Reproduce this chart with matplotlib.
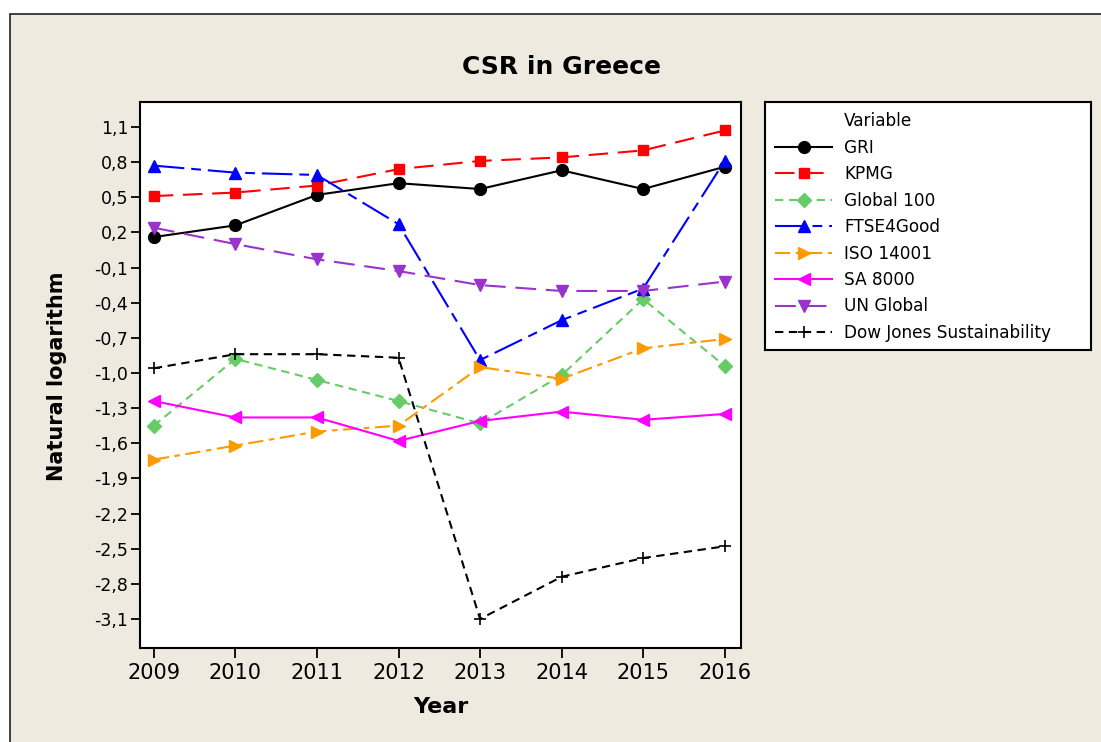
import matplotlib
matplotlib.use("Agg")
import matplotlib.pyplot as plt
from matplotlib.patches import Rectangle
from matplotlib.lines import Line2D
from matplotlib.ticker import FuncFormatter

plt.rcParams['font.family'] = ['DejaVu Sans']
plt.rcParams['lines.scale_dashes'] = False

# data
years = [2009, 2010, 2011, 2012, 2013, 2014, 2015, 2016]
gri = [0.16, 0.26, 0.52, 0.62, 0.57, 0.73, 0.57, 0.76]
kpmg = [0.51, 0.54, 0.60, 0.74, 0.81, 0.84, 0.90, 1.07]
global100 = [-1.45, -0.88, -1.06, -1.24, -1.43, -1.02, -0.37, -0.94]
ftse4good = [0.77, 0.71, 0.69, 0.27, -0.89, -0.55, -0.28, 0.81]
iso14001 = [-1.74, -1.62, -1.50, -1.45, -0.95, -1.05, -0.79, -0.71]
sa8000 = [-1.24, -1.38, -1.38, -1.58, -1.41, -1.33, -1.40, -1.35]
un_global = [0.24, 0.10, -0.03, -0.13, -0.25, -0.30, -0.30, -0.22]
dow_jones = [-0.96, -0.84, -0.84, -0.87, -3.10, -2.74, -2.58, -2.48]
yticks = [1.1, 0.8, 0.5, 0.2, -0.1, -0.4, -0.7, -1.0, -1.3, -1.6, -1.9,
          -2.2, -2.5, -2.8, -3.1]

W, H = 1101, 742
beige = '#eeeae0'

fig = plt.figure(figsize=(W / 100, H / 100), dpi=100)
fig.patch.set_facecolor('white')
# beige panel with a dark border, white strip above and left
bg = Rectangle((10 / W, -0.05), 1.0, 1 - 14 / H + 0.05, transform=fig.transFigure,
               facecolor=beige, edgecolor='#222222', lw=1.2, zorder=-10)
fig.add_artist(bg)

ax = fig.add_axes([140 / W, 1 - 648 / H, 601 / W, 546 / H])
ax.set_facecolor('white')

series = [
    ('GRI', gri, dict(color='black', ls='-', marker='o', ms=8.5)),
    ('KPMG', kpmg, dict(color='#ff0000', ls=(0, (14, 7)), marker='s', ms=7)),
    ('Global 100', global100, dict(color='#66cc66', ls=(0, (6, 4)), marker='D', ms=7)),
    ('FTSE4Good', ftse4good, dict(color='#0000ff', ls=(0, (22, 5, 7, 5)), marker='^', ms=9)),
    ('ISO 14001', iso14001, dict(color='#ff9900', ls=(0, (11, 4, 4, 4)), marker='>', ms=9)),
    ('SA 8000', sa8000, dict(color='#ff00ff', ls='-', marker='<', ms=9)),
    ('UN Global', un_global, dict(color='#9933cc', ls=(0, (15, 7)), marker='v', ms=9)),
    ('Dow Jones Sustainability', dow_jones,
     dict(color='black', ls=(0, (6, 4)), marker='+', ms=8, mew=1.2)),
]

handles = []
for name, vals, st in series:
    ln, = ax.plot(years, vals, lw=1.5, label=name, **st)
    handles.append(ln)

ax.set_xlim(2008.83, 2016.2)
ax.set_ylim(-3.348, 1.313)
ax.set_xticks(years)
ax.set_yticks(yticks)
ax.yaxis.set_major_formatter(FuncFormatter(lambda v, p: f"{v:.1f}".replace('.', ',')))
ax.tick_params(axis='x', direction='out', length=7, width=1.3, labelsize=15, pad=4)
ax.tick_params(axis='y', direction='out', length=6.5, width=1.3, labelsize=12.5, pad=2)
for s in ax.spines.values():
    s.set_linewidth(1.5)

fig.text(561 / W, 1 - 67 / H, 'CSR in Greece', ha='center', va='center',
         fontsize=18, fontweight='bold')
fig.text(440.5 / W, 1 - 707 / H, 'Year', ha='center', va='center',
         fontsize=16, fontweight='bold')
fig.text(57 / W, 1 - 376 / H, 'Natural logarithm', ha='center', va='center',
         rotation=90, fontsize=15, fontweight='bold')

# legend box
lax = fig.add_axes([765 / W, 1 - 350 / H, 326 / W, 248 / H])
lax.set_xticks([])
lax.set_yticks([])
lax.set_facecolor('white')
for s in lax.spines.values():
    s.set_linewidth(1.5)
title_handle = Line2D([], [], linestyle='none', marker='none')
lax.legend([title_handle] + handles, ['Variable'] + [h.get_label() for h in handles],
           loc='upper left', bbox_to_anchor=(0, 1), frameon=False, fontsize=12.2,
           handlelength=3.36, handletextpad=0.71, borderaxespad=0, borderpad=0.6,
           labelspacing=0.5, numpoints=1)

fig.savefig('out.png', dpi=100, facecolor=fig.get_facecolor())
